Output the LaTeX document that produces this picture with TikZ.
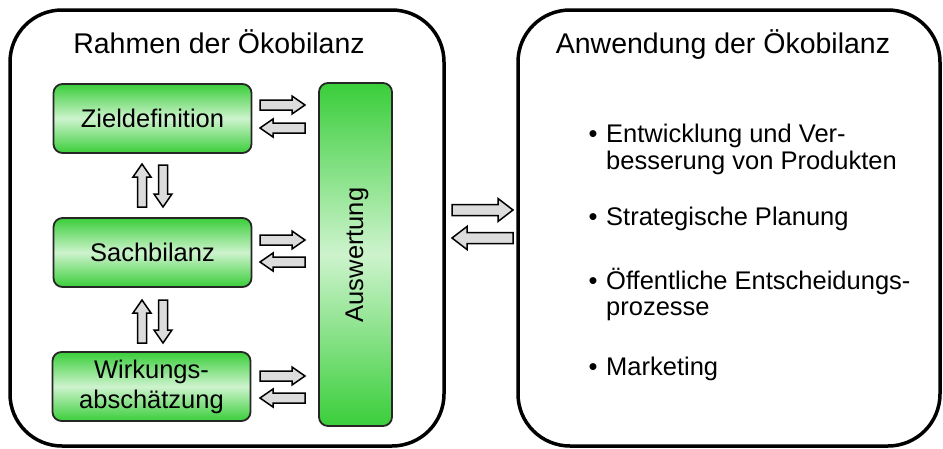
\documentclass[tikz,border=0pt]{standalone}
\usepackage{fontspec}
\setmainfont{Liberation Sans}
\definecolor{gdark}{RGB}{58,206,58}
\definecolor{glight}{RGB}{205,243,205}
\definecolor{agray}{RGB}{220,220,220}
\newcommand{\blk}[7]{\draw[barr,shift={(#1,#2)},rotate=#3] (0,-#5) -- (#4-#7,-#5) -- (#4-#7,-#6) -- (#4,0) -- (#4-#7,#6) -- (#4-#7,#5) -- (0,#5) -- cycle;}
\begin{document}
\begin{tikzpicture}[x=1pt,y=-1pt,
  frame/.style={draw=black, line width=3.5pt, rounded corners=52pt, inner sep=0pt},
  gbox/.style={draw=black!85, line width=1.8pt, rounded corners=9pt,
    top color=gdark, bottom color=gdark, middle color=glight,
    font=\fontsize{25.5}{30}\selectfont, align=center, inner sep=0pt},
  barr/.style={draw=black, line width=1.5pt, fill=agray, line join=miter},
  title/.style={font=\fontsize{28.5}{34}\selectfont, inner sep=0pt, anchor=base},
  btxt/.style={font=\fontsize{25.5}{30}\selectfont, inner sep=0pt, anchor=base west},
  bdot/.style={font=\fontsize{25.5}{30}\selectfont, inner sep=0pt, anchor=base}]
\useasboundingbox (0,0) rectangle (943,448);

% frames
\node[frame, minimum width=434pt, minimum height=436pt] (rahmen) at (227,228) {};
\node[frame, minimum width=422pt, minimum height=436pt] (anwendung) at (729,228) {};
\node[title] (t1) at (219,53) {Rahmen der Ökobilanz};
\node[title] (t2) at (723,53) {Anwendung der Ökobilanz};

% green boxes
\node[gbox, minimum width=198pt, minimum height=69pt] (ziel) at (152.5,118.5) {Zieldefinition};
\node[gbox, minimum width=198pt, minimum height=69pt] (sach) at (152.5,252.5) {Sachbilanz};
\node[gbox, minimum width=198pt, minimum height=69pt] (wirk) at (151.5,386.5) {Wirkungs-\\abschätzung};
\node[gbox, minimum width=73pt, minimum height=343pt] (ausw) at (355.5,254.5) {};
\node[font=\fontsize{25.5}{30}\selectfont, inner sep=0pt, anchor=base, rotate=90] (auswt) at (363,255) {Auswertung};

% block arrows
\blk{260}{105}{0}{45}{5}{9}{13}
\blk{305}{128}{180}{45}{5}{9}{13}
\blk{260}{240}{0}{45}{5}{9}{13}
\blk{305}{262}{180}{45}{5}{9}{13}
\blk{260}{376}{0}{45}{5}{9}{13}
\blk{305}{398}{180}{45}{5}{9}{13}
\blk{142}{207}{90}{43}{4.5}{9}{13}
\blk{163}{165}{-90}{42}{4.5}{9}{13}
\blk{142}{343}{90}{43}{4.5}{9}{13}
\blk{163}{300}{-90}{43}{4.5}{9}{13}
\blk{452}{210}{0}{61}{5.5}{11.5}{15}
\blk{513}{238}{180}{61}{5.5}{11.5}{15}

% bullets
\node[bdot] (d1) at (593,142) {•};
\node[btxt] (b1) at (606,142) {Entwicklung und Ver-};
\node[btxt] (b1b) at (606,169) {besserung von Produkten};
\node[bdot] (d2) at (593,225) {•};
\node[btxt] (b2) at (606,225) {Strategische Planung};
\node[bdot] (d3) at (593,289) {•};
\node[btxt] (b3) at (606,289) {Öffentliche Entscheidungs-};
\node[btxt] (b3b) at (606,315) {prozesse};
\node[bdot] (d4) at (593,375) {•};
\node[btxt] (b4) at (606,375) {Marketing};
\end{tikzpicture}
\end{document}
